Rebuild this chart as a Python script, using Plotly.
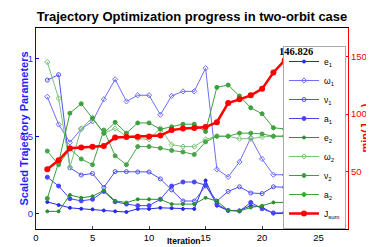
import plotly.graph_objects as go

iterations = list(range(1, 24))

e1 = [0.075, 0.055, 0.037, 0.031, 0.027, 0.02, 0.014, 0.01, 0.03, 0.03, 0.037, 0.035,
      0.03, 0.03, 0.214, 0.051, 0.02, 0.02, 0.051, 0.041, 0.0, 0.0, 0.0]
omega1 = [0.755, 0.576, 0.46, 0.547, 0.596, 0.739, 0.868, 0.725, 0.765, 0.765, 0.639, 0.761,
          0.79, 0.79, 0.94, 0.286, 0.237, 0.334, 0.49, 0.353, 0.251, 0.251, 0.251]
nu1 = [0.863, 0.898, 0.296, 0.249, 0.259, 0.169, 0.271, 0.271, 0.269, 0.269, 0.224, 0.153,
       0.081, 0.081, 0.178, 0.081, 0.143, 0.173, 0.133, 0.129, 0.173, 0.17, 0.167]
a1 = [0.235, 0.178, 0.096, 0.082, 0.092, 0.143, 0.076, 0.061, 0.051, 0.051, 0.092, 0.178,
      0.204, 0.204, 0.184, 0.061, 0.02, 0.016, 0.072, 0.031, 0.004, 0.006, 0.006]
e2 = [0.014, 0.014, 0.12, 0.102, 0.112, 0.149, 0.082, 0.071, 0.092, 0.092, 0.092, 0.061,
      0.061, 0.061, 0.102, 0.081, 0.02, 0.016, 0.039, 0.051, 0.072, 0.072, 0.072]
omega2 = [0.98, 0.745, 0.30, 0.55, 0.62, 0.52, 0.55, 0.50, 0.484, 0.48, 0.551, 0.445,
          0.433, 0.433, 0.48, 0.50, 0.50, 0.484, 0.484, 0.495, 0.50, 0.50, 0.50]
nu2 = [0.098, 0.33, 0.649, 0.71, 0.616, 0.52, 0.59, 0.52, 0.586, 0.586, 0.545, 0.561,
       0.578, 0.578, 0.531, 0.816, 0.831, 0.76, 0.684, 0.645, 0.555, 0.547, 0.547]
a2 = [0.404, 0.316, 0.418, 0.353, 0.316, 0.54, 0.373, 0.316, 0.433, 0.433, 0.423, 0.408,
      0.398, 0.382, 0.463, 0.50, 0.50, 0.52, 0.52, 0.515, 0.50, 0.50, 0.50]
j_sum = [52.1, 59.8, 70.3, 70.9, 71.7, 72.3, 79.7, 80.0, 80.3, 80.5, 81.4, 86.1,
         87.4, 88.0, 88.7, 93.0, 109.6, 112.9, 116.4, 122.0, 136.3, 146.826, 146.826]

final_label = "146.826"

x_ticks = [0, 5, 10, 15, 20, 25]
left_ticks = [0, 0.5, 1]
right_ticks = [50, 100, 150]

FONT = "Liberation Sans, Arial, sans-serif"

series = [
    ("e<sub>1</sub>", e1, "rgb(40,40,235)", "circle", 3),
    ("\u03c9<sub>1</sub>", omega1, "rgb(110,110,250)", "diamond-open", 4),
    ("\u03bd<sub>1</sub>", nu1, "rgb(80,80,245)", "circle-open", 4),
    ("a<sub>1</sub>", a1, "rgb(70,70,245)", "circle", 4),
    ("e<sub>2</sub>", e2, "rgb(40,145,40)", "circle", 3),
    ("\u03c9<sub>2</sub>", omega2, "rgb(120,195,120)", "diamond-open", 4),
    ("\u03bd<sub>2</sub>", nu2, "rgb(60,160,60)", "circle", 4),
    ("a<sub>2</sub>", a2, "rgb(70,165,70)", "circle", 4),
]

fig = go.Figure()
for name, vals, color, sym, size in series:
    fig.add_trace(go.Scatter(
        x=iterations, y=vals, name=name, mode="lines+markers",
        line=dict(color=color, width=1),
        marker=dict(color=color, symbol=sym, size=size, line=dict(color=color, width=1)),
        yaxis="y",
    ))

fig.add_trace(go.Scatter(
    x=iterations, y=j_sum, name="J<sub>sum</sub>", mode="lines+markers",
    line=dict(color="rgb(255,0,0)", width=2.5),
    marker=dict(color="rgb(255,0,0)", symbol="circle", size=6),
    yaxis="y2",
))

fig.add_annotation(
    x=iterations[-1], y=j_sum[-1], xref="x", yref="y2",
    text="<b>" + final_label + "</b>", showarrow=False,
    font=dict(family="Liberation Serif, Times New Roman, serif", size=10.5, color="black"),
    yshift=9,
)

fig.add_annotation(
    xref="paper", yref="paper", x=0, y=0.5, xshift=-21,
    text="<b>Scaled Trajectory Parameters</b>", textangle=-90, showarrow=False,
    font=dict(family=FONT, size=11, color="rgb(30,30,255)"),
)
fig.add_annotation(
    xref="paper", yref="paper", x=1, y=0.5, xshift=26,
    text="<b>min(J<sub>sum</sub>)</b>", textangle=-90, showarrow=False,
    font=dict(family=FONT, size=11, color="rgb(255,0,0)"),
)
fig.add_annotation(
    xref="paper", yref="paper", x=0.5, y=0, xshift=-8, yshift=-12, yanchor="middle",
    text="<b>Iteration</b>", showarrow=False,
    font=dict(family=FONT, size=8.5, color="black"),
)

fig.update_layout(
    width=374, height=247,
    margin=dict(l=28, r=34, t=20, b=16),
    paper_bgcolor="white", plot_bgcolor="white",
    font=dict(family=FONT, size=9.5, color="black"),
    title=dict(
        text="<b>Trajectory Optimization progress in two-orbit case</b>",
        x=0.5, xref="paper", xanchor="center",
        y=1 - 8 / 247, yref="container", yanchor="middle",
        font=dict(family=FONT, size=13, color="black"),
    ),
    xaxis=dict(
        range=[0, 27.6], tickvals=x_ticks, ticks="inside", ticklen=3,
        showline=True, linecolor="black", linewidth=1, mirror=True,
        showgrid=False, zeroline=False,
        tickfont=dict(family=FONT, size=9.5, color="black"),
    ),
    yaxis=dict(
        range=[-0.1, 1.2], tickvals=left_ticks, ticktext=["0", "0.5", "1"],
        ticks="inside", ticklen=3, tickcolor="rgb(0,0,255)",
        showline=True, linecolor="rgb(0,0,255)", linewidth=1,
        showgrid=False, zeroline=False,
        tickfont=dict(family=FONT, size=9.5, color="rgb(30,30,255)"),
    ),
    yaxis2=dict(
        range=[0, 175], tickvals=right_ticks, overlaying="y", side="right",
        ticks="inside", ticklen=3, tickcolor="rgb(255,0,0)",
        showline=True, linecolor="rgb(255,0,0)", linewidth=1,
        showgrid=False, zeroline=False,
        tickfont=dict(family=FONT, size=9.5, color="rgb(255,0,0)"),
    ),
    legend=dict(
        x=0.9936, y=0.0, xanchor="right", yanchor="bottom",
        bgcolor="white", bordercolor="rgb(170,170,170)", borderwidth=1,
        font=dict(family=FONT, size=8.5, color="black"),
        itemwidth=30, tracegroupgap=0,
    ),
    showlegend=True,
)

fig.write_html("out.html")
